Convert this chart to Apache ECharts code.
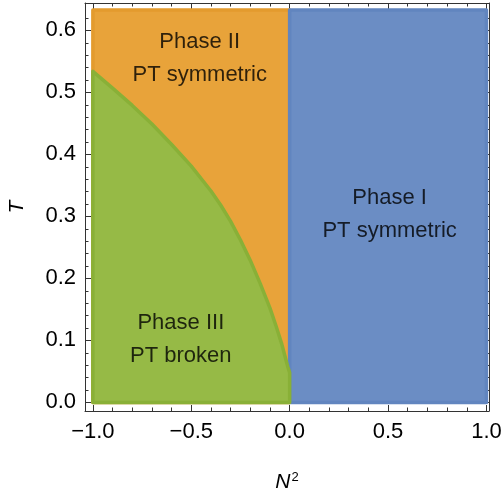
<!DOCTYPE html>
<html>
<head>
<meta charset="utf-8">
<script src="https://cdn.jsdelivr.net/npm/echarts@6/dist/echarts.min.js"></script>
<style>
    html, body { margin: 0; padding: 0; background: #fff; }
    #phaseChart { width: 502px; height: 498px; }
</style>
</head>
<body>
<div id="phaseChart"></div>
<script>
// tick values
const xMajorTicks = [-1, -0.5, 0, 0.5, 1]
const xMinorTicks = [-0.9, -0.8, -0.7, -0.6, -0.4, -0.3, -0.2, -0.1, 0.1, 0.2, 0.3, 0.4, 0.6, 0.7, 0.8, 0.9]
const yMajorTicks = [0, 0.1, 0.2, 0.3, 0.4, 0.5, 0.6]
const yMinorTicks = [0.02, 0.04, 0.06, 0.08, 0.12, 0.14, 0.16, 0.18, 0.22, 0.24, 0.26, 0.28,
    0.32, 0.34, 0.36, 0.38, 0.42, 0.44, 0.46, 0.48, 0.52, 0.54, 0.56, 0.58, 0.62]

// region limits
const nLeft = -1
const nMid = 0
const nRight = 1
const tTop = 0.633

// phase III boundary
const boundaryN2 = [-1, -0.9, -0.8, -0.7, -0.6, -0.5, -0.4, -0.35, -0.3, -0.25, -0.2, -0.15, -0.1, -0.07, -0.04, -0.02, -0.01, 0]
const boundaryT = [0.534, 0.507, 0.479, 0.449, 0.416, 0.381, 0.341, 0.318, 0.292, 0.262, 0.229, 0.192, 0.152, 0.124, 0.094, 0.07, 0.058, 0.048]

// text labels
const labelN2 = [-0.457, 0.508, -0.553]
const labelT = [0.555, 0.303, 0.101]
const labelText = ["Phase II\nPT symmetric", "Phase I\nPT symmetric", "Phase III\nPT broken"]

const xMin = -1.04
const xMax = 1.013
const yMin = -0.0139
const yMax = 0.6442
const frameColor = "#333"
const fontFamily = "Liberation Sans, Arial, sans-serif"

function minus(v) {
    return v.toFixed(1).replace("-", "\u2212")
}

function makeX(position, ticks, len, labels) {
    return {
        type: "value",
        position: position,
        min: xMin,
        max: xMax,
        axisLine: { show: ticks === xMajorTicks, onZero: false, lineStyle: { color: frameColor, width: 1 } },
        axisTick: { show: true, inside: true, length: len, customValues: ticks, lineStyle: { color: frameColor } },
        axisLabel: {
            show: labels,
            customValues: ticks,
            margin: 10,
            color: "#000",
            fontSize: 22,
            fontFamily: fontFamily,
            formatter: minus,
        },
        splitLine: { show: false },
    }
}

function makeY(position, ticks, len, labels) {
    return {
        type: "value",
        position: position,
        min: yMin,
        max: yMax,
        axisLine: { show: ticks === yMajorTicks, onZero: false, lineStyle: { color: frameColor, width: 1 } },
        axisTick: { show: true, inside: true, length: len, customValues: ticks, lineStyle: { color: frameColor } },
        axisLabel: {
            show: labels,
            customValues: ticks,
            margin: 9,
            color: "#000",
            fontSize: 22,
            fontFamily: fontFamily,
            formatter: function (v) { return v.toFixed(1) },
        },
        splitLine: { show: false },
    }
}

function regionSeries(name, verts, fill, stroke) {
    return {
        name: name,
        type: "custom",
        xAxisIndex: 0,
        yAxisIndex: 0,
        silent: true,
        z: 1,
        data: [0],
        renderItem: function (params, api) {
            return {
                type: "polygon",
                shape: { points: verts.map(function (v) { return api.coord(v) }) },
                style: { fill: fill, stroke: stroke, lineWidth: 3.5, lineJoin: "round" },
            }
        },
    }
}

const phaseTwoVerts = [[nLeft, 0], [nLeft, tTop], [nMid, tTop], [nMid, 0]]
const phaseOneVerts = [[nMid, 0], [nMid, tTop], [nRight, tTop], [nRight, 0]]
const phaseThreeVerts = [[nLeft, 0]]
    .concat(boundaryN2.map(function (n, i) { return [n, boundaryT[i]] }))
    .concat([[nMid, 0]])

const xAxisName = makeX("bottom", xMajorTicks, 6, true)
xAxisName.name = "N{sup|2}"
xAxisName.nameLocation = "middle"
xAxisName.nameGap = 60
xAxisName.nameTextStyle = {
    color: "#000",
    fontSize: 21,
    fontStyle: "italic",
    fontFamily: fontFamily,
    rich: {
        sup: { fontSize: 13, fontStyle: "normal", verticalAlign: "top", padding: [0, 0, 10, 1], fontFamily: fontFamily, color: "#000" },
    },
}

const yAxisName = makeY("left", yMajorTicks, 6, true)
yAxisName.name = "T"
yAxisName.nameLocation = "middle"
yAxisName.nameGap = 57
yAxisName.nameRotate = 90
yAxisName.nameTextStyle = { color: "#000", fontSize: 21, fontStyle: "italic", fontFamily: fontFamily }

const myChart = echarts.init(document.getElementById("phaseChart"), null, { renderer: "canvas" })
myChart.setOption({
    animation: false,
    grid: { left: 85, right: 13, top: 3, bottom: 87, containLabel: false, outerBoundsMode: "none" },
    xAxis: [
        xAxisName,
        makeX("bottom", xMinorTicks, 3.5, false),
        makeX("top", xMajorTicks, 6, false),
        makeX("top", xMinorTicks, 3.5, false),
    ],
    yAxis: [
        yAxisName,
        makeY("left", yMinorTicks, 3.5, false),
        makeY("right", yMajorTicks, 6, false),
        makeY("right", yMinorTicks, 3.5, false),
    ],
    series: [
        regionSeries("Phase II", phaseTwoVerts, "#E8A33A", "#E39B2E"),
        regionSeries("Phase I", phaseOneVerts, "#6B8DC4", "#6185BF"),
        regionSeries("Phase III", phaseThreeVerts, "#96BA46", "#89B037"),
        {
            type: "scatter",
            xAxisIndex: 0,
            yAxisIndex: 0,
            symbolSize: 0,
            silent: true,
            data: labelN2.map(function (n, i) { return [n, labelT[i], labelText[i]] }),
            label: {
                show: true,
                position: "inside",
                formatter: function (p) { return p.data[2] },
                color: "#000",
                fontSize: 22,
                lineHeight: 33,
                align: "center",
                fontFamily: fontFamily,
            },
        },
    ],
})
window.addEventListener("resize", function () {
    myChart.resize()
})
</script>
</body>
</html>
